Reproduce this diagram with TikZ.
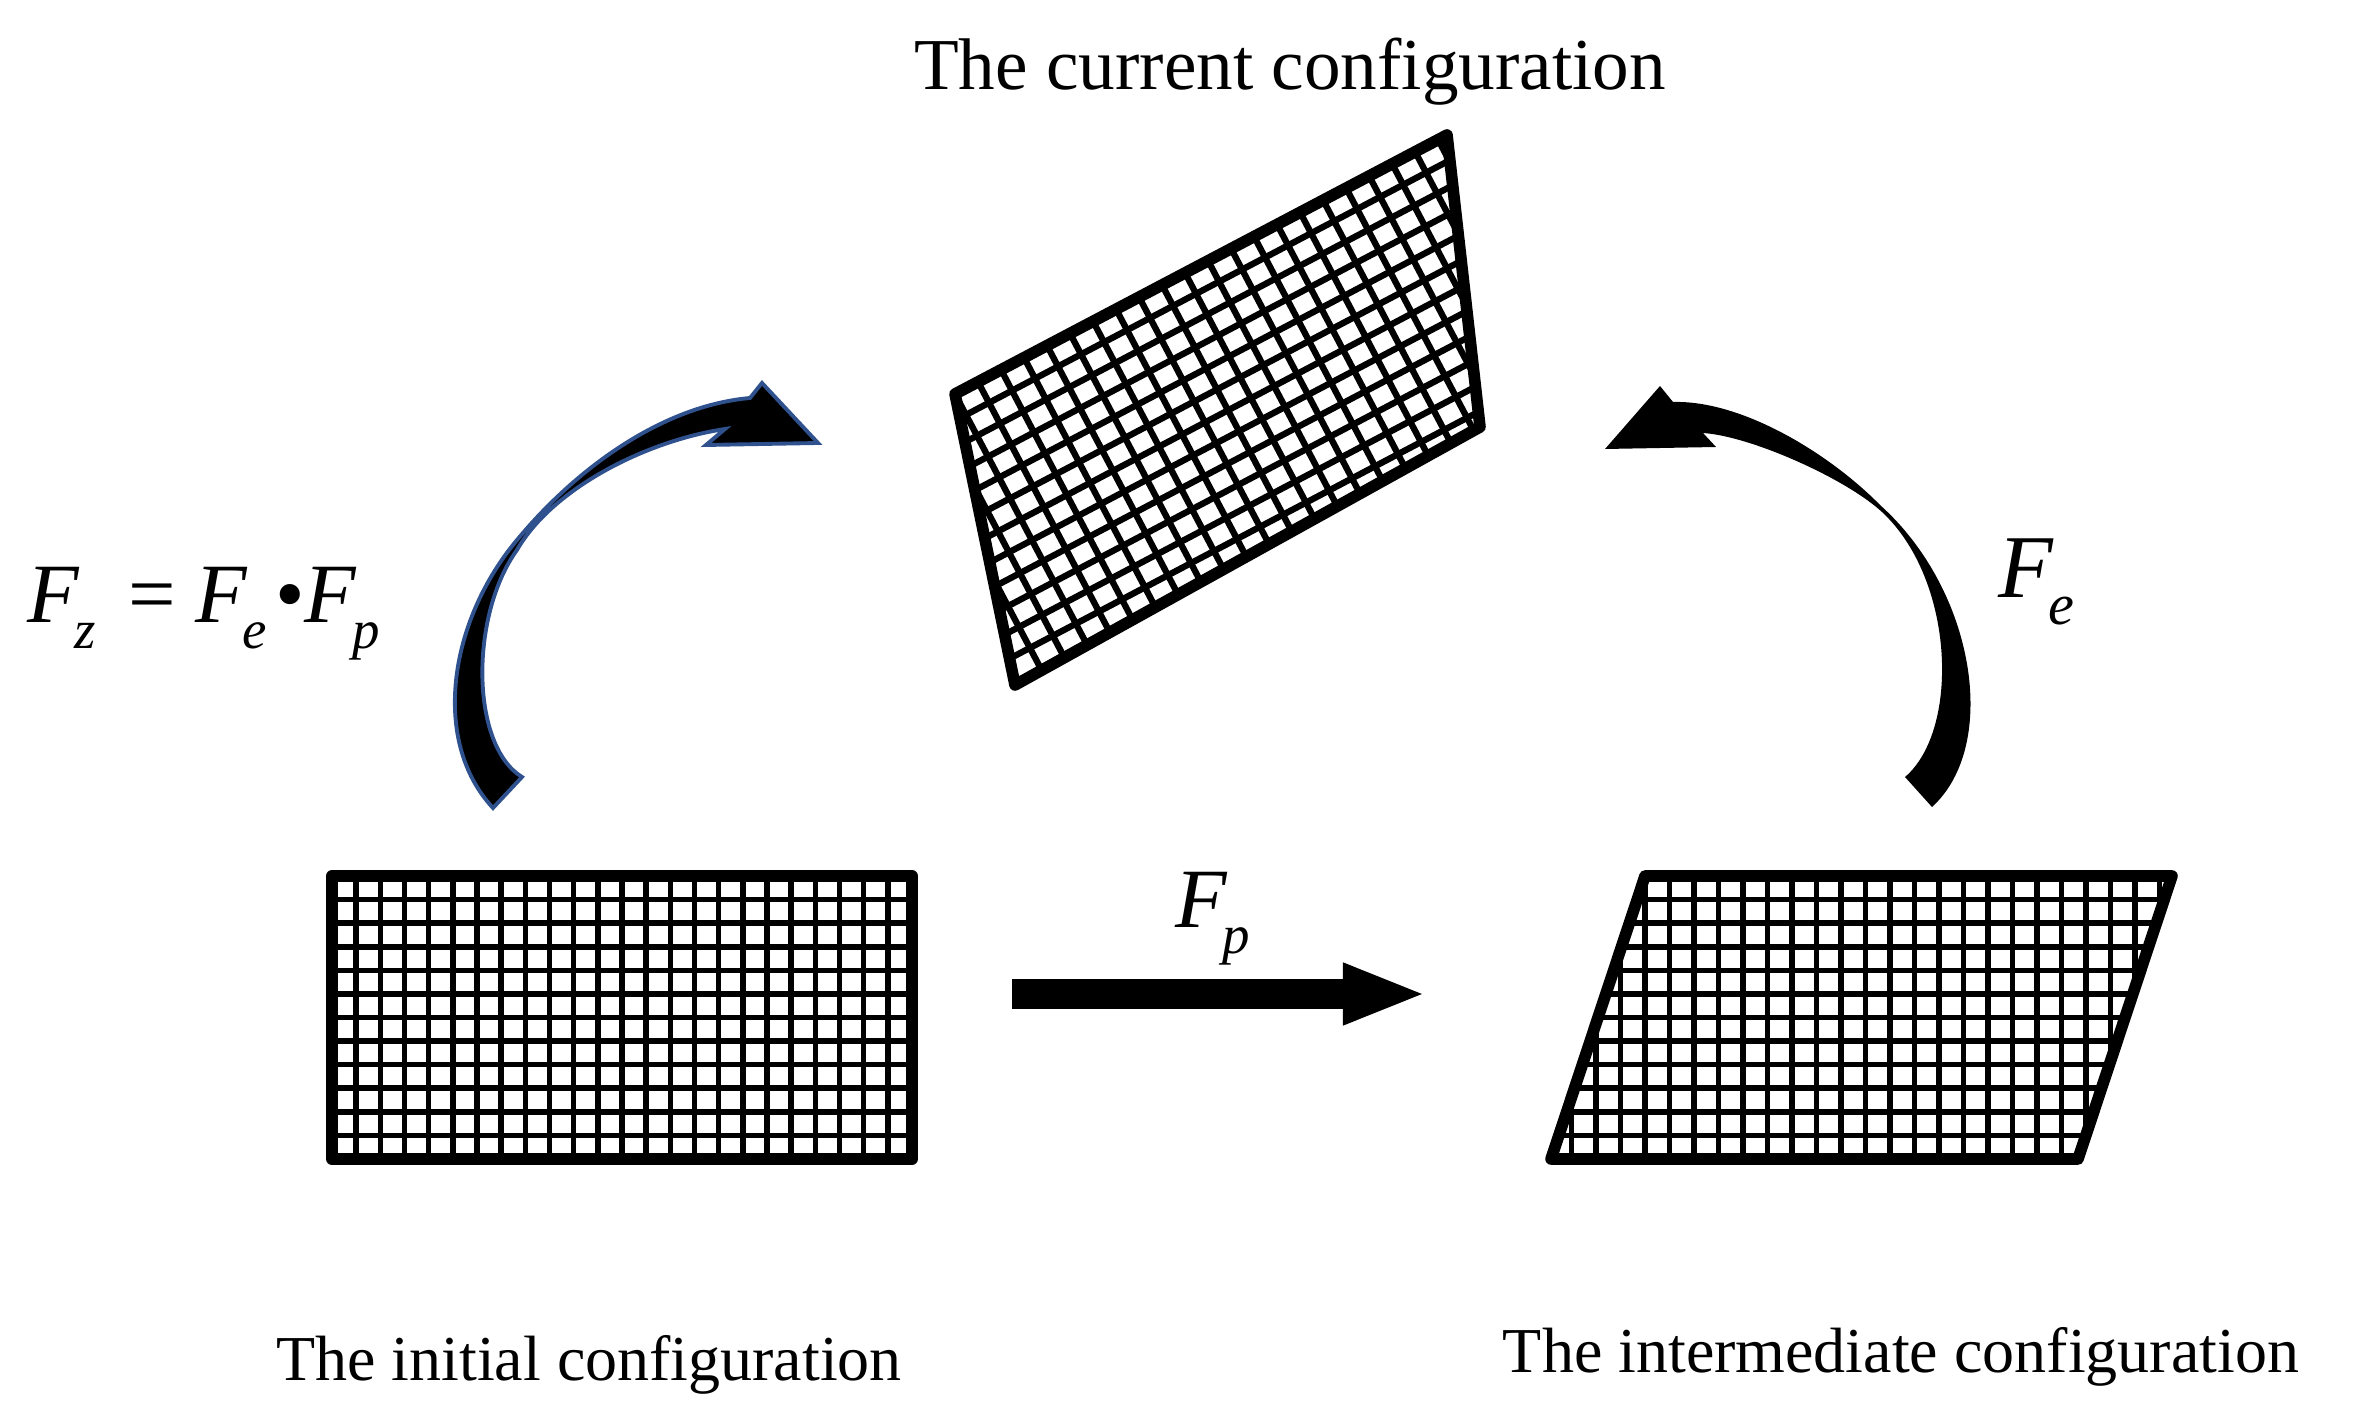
\documentclass[tikz,border=0pt]{standalone}
\usepackage{graphicx}
\usepackage{fontspec}
\setmainfont{Liberation Serif}
\usetikzlibrary{arrows.meta}
\usetikzlibrary{positioning}

\definecolor{outlineblue}{RGB}{47,82,143}
\newcommand{\lowsub}[2]{\textit{#1}\kern-0.06em\raisebox{-0.3em}{\scalebox{0.65}{\textit{#2}}}}

\begin{document}
\begin{tikzpicture}[x=0.01cm,y=-0.01cm,
	frame/.style={line width=3.3pt,line join=round},
	grid line/.style={line width=1.6pt},
	title text/.style={font=\fontsize{20.8}{24}\selectfont,inner sep=0pt},
	config text/.style={font=\fontsize{18.2}{22}\selectfont,inner sep=0pt},
	math label/.style={font=\fontsize{24}{28}\selectfont,inner sep=0pt,anchor=base west},
	push arrow/.style={line width=8.25pt,-{Triangle[length=23.9pt,width=15.9pt]}},
	bent arrow/.style={fill=black}]
	
	\useasboundingbox (0,0) rectangle (2357,1419);
	
	% initial configuration
	\foreach \i in {1,...,23}
		\draw[grid line] ({332+24.167*\i},876) -- ({332+24.167*\i},1159);
	\foreach \j in {1,...,11}
		\draw[grid line] (332,{876+23.58*\j}) -- (912,{876+23.58*\j});
	\draw[frame] (332,876) rectangle (912,1159);
	
	% intermediate configuration
	\begin{scope}
		\clip (1645,876) -- (2172,876) -- (2078,1159) -- (1551,1159) -- cycle;
		\foreach \i in {-5,...,22}
			\draw[grid line] ({1645+24.5*\i},870) -- ({1645+24.5*\i},1165);
		\foreach \j in {1,...,11}
			\draw[grid line] (1540,{876+23.58*\j}) -- (2180,{876+23.58*\j});
	\end{scope}
	\draw[frame] (1645,876) -- (2172,876) -- (2078,1159) -- (1551,1159) -- cycle;
	
	% current configuration
	\begin{scope}
		\clip (955,394) -- (1447,135) -- (1480,427) -- (1015,685) -- cycle;
		\begin{scope}[shift={(955,394)},rotate=27.76]
			\foreach \i in {-5,...,23}
				\draw[grid line, line width=1.8pt] ({26*\i},-20) -- ({26*\i},300);
			\foreach \j in {1,...,11}
				\draw[grid line, line width=1.8pt] (-120,{23.6*\j}) -- (580,{23.6*\j});
		\end{scope}
	\end{scope}
	\draw[frame] (955,394) -- (1447,135) -- (1480,427) -- (1015,685) -- cycle;
	
	\node[title text, anchor=base] (current) at (1290,90) {The current configuration};
	\node[config text, anchor=base] (initial) at (589,1380) {The initial configuration};
	\node[config text, anchor=base] (intermediate) at (1901,1372) {The intermediate configuration};
	
	\node[math label] (Fz) at (27,623)
		{\lowsub{F}{z}\hspace{0.38em}=\hspace{0.23em}\lowsub{F}{e}\hspace{0.1em}•\lowsub{F}{p}};
	\node[math label, font=\fontsize{25.5}{28}\selectfont] (Fe) at (1998,598) {\lowsub{F}{e}};
	\node[math label] (Fp) at (1175,928) {\lowsub{F}{p}};
	
	\coordinate (fp start) at (1012,994);
	\coordinate (fp end) at (1427,994);
	\draw[push arrow] (fp start) -- (fp end);
	
	\filldraw[bent arrow, draw=outlineblue, line width=1.1pt]
		(493,808) .. controls (430,740) and (450,620) .. (517,540)
		.. controls (574,471) and (660,406) .. (750,398)
		-- (762,383) -- (818,443) -- (706,445) -- (725,429)
		.. controls (645,441) and (552,489) .. (517,550)
		.. controls (470,615) and (470,745) .. (522,777) -- cycle;
	\fill[bent arrow]
		(1932,807) .. controls (2000,745) and (1975,590) .. (1880,505)
		.. controls (1831,455) and (1743,400) .. (1673,402)
		-- (1660,386) -- (1605,449) -- (1716,447) -- (1703,433)
		.. controls (1750,436) and (1845,478) .. (1882,512)
		.. controls (1955,580) and (1960,730) .. (1905,777) -- cycle;
\end{tikzpicture}
\end{document}
